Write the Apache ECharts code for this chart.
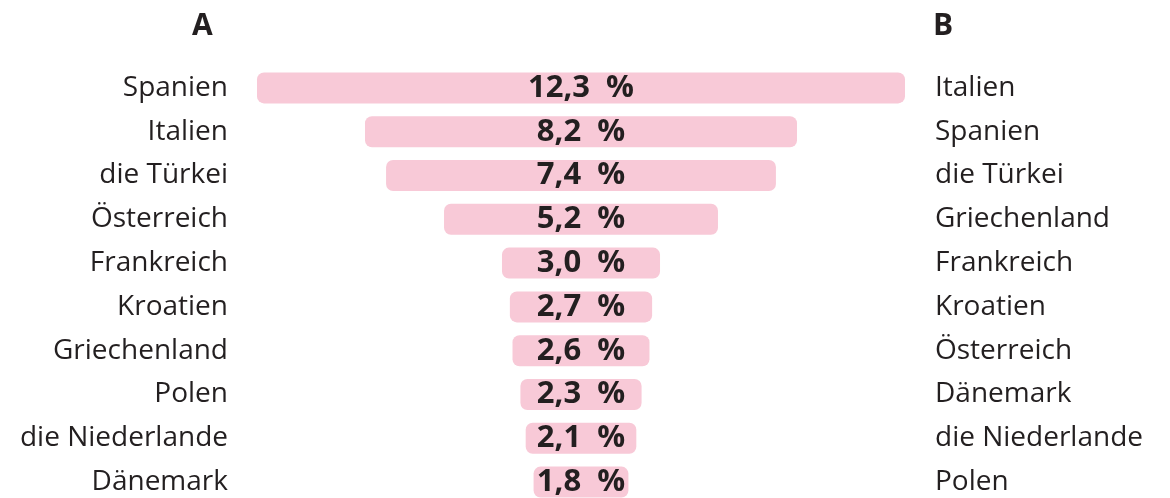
<!DOCTYPE html>
<html>
<head>
<meta charset="utf-8">
<script src="https://cdn.jsdelivr.net/npm/echarts@6/dist/echarts.min.js"></script>
<style>
  html, body { margin: 0; padding: 0; background: #ffffff; overflow: hidden; }
  #chart { width: 1170px; height: 512px; }
</style>
</head>
<body>
<div id="chart"></div>
<script>
// Ranking A: countries with their share, top to bottom
const categoriesA = ['Spanien', 'Italien', 'die Türkei', 'Österreich', 'Frankreich', 'Kroatien', 'Griechenland', 'Polen', 'die Niederlande', 'Dänemark'];
const valuesA = [12.3, 8.2, 7.4, 5.2, 3.0, 2.7, 2.6, 2.3, 2.1, 1.8];
// Ranking B: the alternative order shown on the right
const categoriesB = ['Italien', 'Spanien', 'die Türkei', 'Griechenland', 'Frankreich', 'Kroatien', 'Österreich', 'Dänemark', 'die Niederlande', 'Polen'];
const columnTitles = ['A', 'B'];

const axisMax = Math.max(...valuesA);
// transparent spacer so each bar sits centred on the axis
const spacer = valuesA.map(v => (axisMax - v) / 2);

const FONT = '"Open Sans", "Noto Sans", sans-serif';
const INK = '#231f20';
const PINK = '#f8c9d7';

const chart = echarts.init(document.getElementById('chart'), null, { renderer: 'canvas' });

chart.setOption({
  animation: false,
  backgroundColor: '#ffffff',
  grid: { left: 257, width: 648, top: 66, height: 438 },
  xAxis: {
    type: 'value', min: 0, max: axisMax,
    show: false
  },
  yAxis: [
    {
      type: 'category', data: categoriesA, inverse: true, position: 'left',
      axisLine: { show: false }, axisTick: { show: false }, splitLine: { show: false },
      axisLabel: { margin: 29, color: INK, fontSize: 28, fontFamily: FONT, align: 'right', padding: [4, 0, 0, 0] }
    },
    {
      type: 'category', data: categoriesB, inverse: true, position: 'right',
      axisLine: { show: false }, axisTick: { show: false }, splitLine: { show: false },
      axisLabel: { margin: 30, color: INK, fontSize: 28, fontFamily: FONT, align: 'left', padding: [4, 0, 0, 0] }
    }
  ],
  graphic: [
    { type: 'text', left: 192, top: 11, style: { text: columnTitles[0], font: 'bold 30px ' + FONT, fill: INK } },
    { type: 'text', left: 933, top: 11, style: { text: columnTitles[1], font: 'bold 30px ' + FONT, fill: INK } }
  ],
  series: [
    {
      type: 'bar', stack: 'centre', yAxisIndex: 0, data: spacer,
      barWidth: 31, itemStyle: { color: 'transparent' }, silent: true
    },
    {
      type: 'bar', stack: 'centre', yAxisIndex: 0, data: valuesA,
      barWidth: 31,
      itemStyle: { color: PINK, borderRadius: 7 },
      label: {
        show: true, position: 'inside', color: INK,
        fontSize: 31, fontWeight: 'bold', fontFamily: FONT, padding: [2, 0, 0, 0],
        formatter: p => p.value.toFixed(1).replace('.', ',') + '  %'
      }
    }
  ]
});
</script>
</body>
</html>
